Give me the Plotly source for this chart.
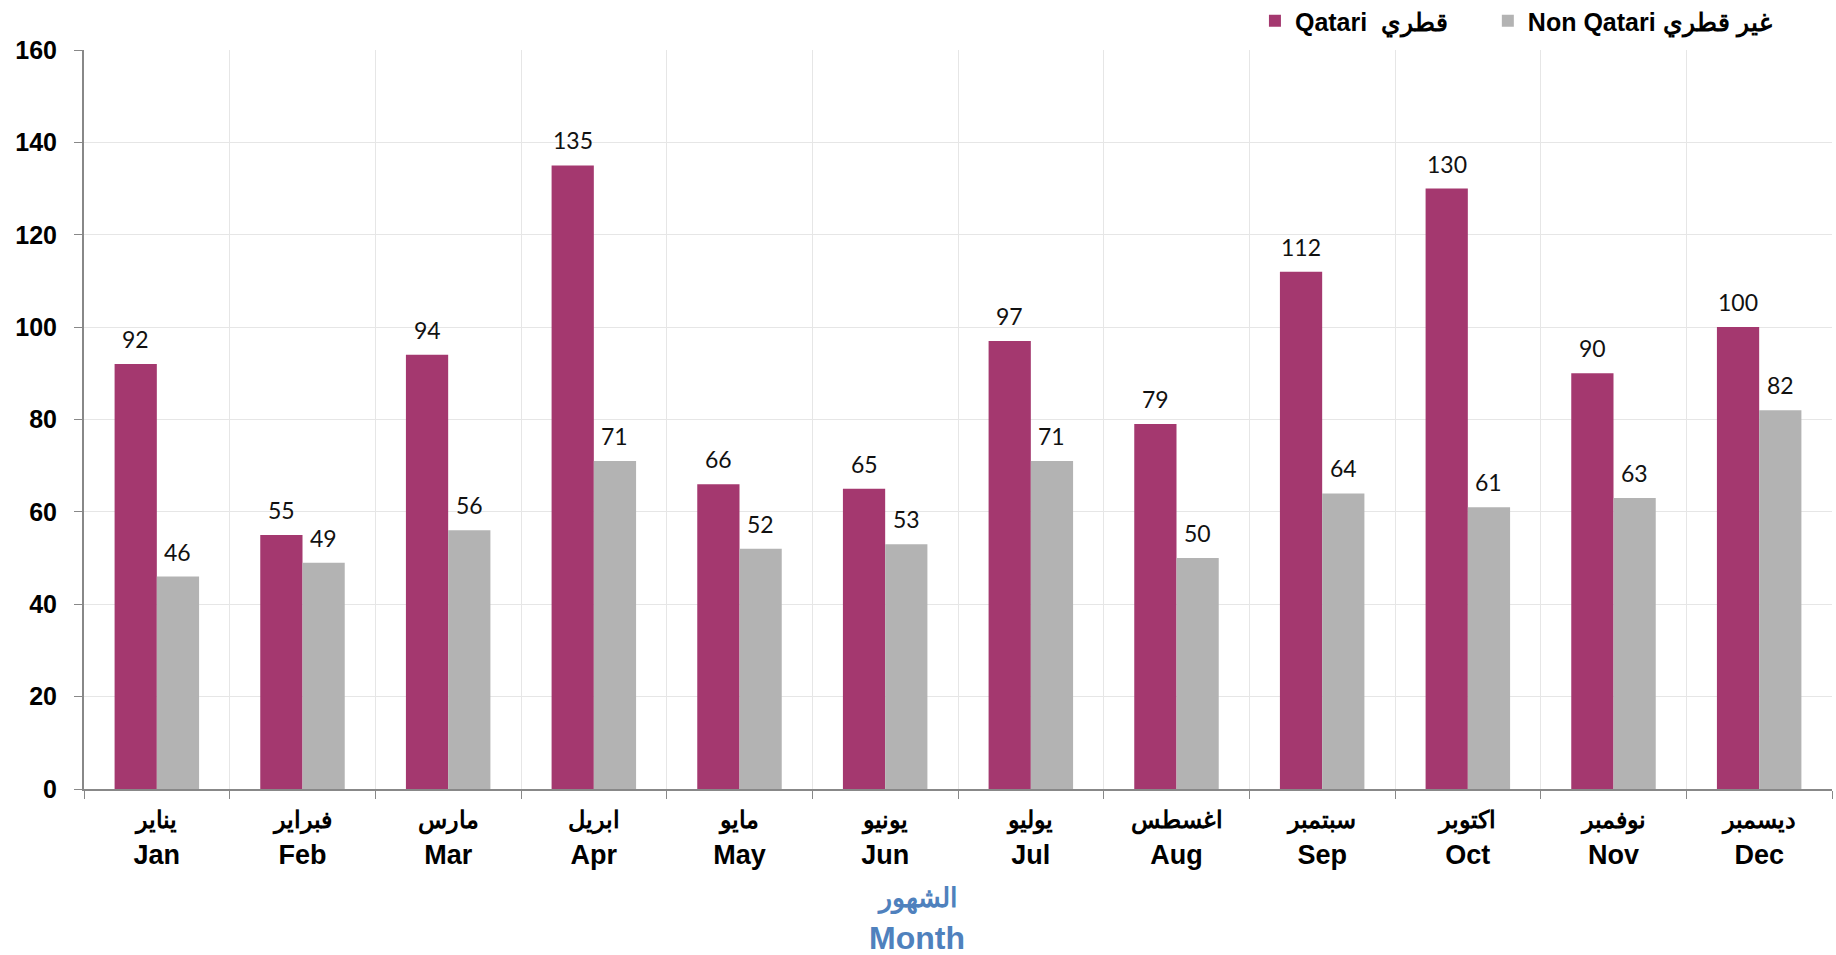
import plotly.graph_objects as go

months_en = ["Jan", "Feb", "Mar", "Apr", "May", "Jun", "Jul", "Aug", "Sep", "Oct", "Nov", "Dec"]
months_ar = ["يناير", "فبراير", "مارس", "ابريل", "مايو", "يونيو", "يوليو", "اغسطس", "سبتمبر", "اكتوبر", "نوفمبر", "ديسمبر"]
qatari = [92, 55, 94, 135, 66, 65, 97, 79, 112, 130, 90, 100]
non_qatari = [46, 49, 56, 71, 52, 53, 71, 50, 64, 61, 63, 82]
y_ticks = [0, 20, 40, 60, 80, 100, 120, 140, 160]

W, H = 1836, 955
ML, MR, MT, MB = 84, 4, 50, 166
BARGAP = 0.42
plot_w = W - ML - MR
plot_h = H - MT - MB
bar_px = plot_w / len(months_en) * (1 - BARGAP) / 2

cats = [f"<span style='font-size:24px'>{a}</span><br>{e}" for a, e in zip(months_ar, months_en)]
label_font = dict(family="Lato, Open Sans, sans-serif", size=23, color="#111")

fig = go.Figure()
fig.add_trace(go.Bar(
    x=cats, y=qatari, name="<b>Qatari</b>  <b>قطري</b>" + "&nbsp;" * 5,
    marker=dict(color="#A4386F", line=dict(width=0)),
))
fig.add_trace(go.Bar(
    x=cats, y=non_qatari, name="<b>Non Qatari</b> <b>غير قطري</b>",
    marker=dict(color="#B3B3B3", line=dict(width=0)),
))

for series, sign in ((qatari, -1), (non_qatari, 1)):
    for c, v in zip(cats, series):
        fig.add_annotation(x=c, y=v, xref="x", yref="y", text=str(v), showarrow=False,
                           xshift=sign * bar_px / 2, yanchor="bottom", yshift=9, font=label_font)

fig.update_layout(
    width=W, height=H,
    paper_bgcolor="white", plot_bgcolor="white",
    margin=dict(l=ML, r=MR, t=MT, b=MB, autoexpand=False),
    barmode="group", bargap=BARGAP, bargroupgap=0,
    font=dict(family="Liberation Sans, Arial, sans-serif", color="#000"),
    showlegend=True,
    legend=dict(orientation="h", x=0.9685, xanchor="right", y=1 + 29 / plot_h, yanchor="middle",
                font=dict(size=25, family="Liberation Sans, Arial, sans-serif", color="#000"),
                itemwidth=30, traceorder="normal", bgcolor="rgba(0,0,0,0)"),
    xaxis=dict(
        type="category", tickson="boundaries", showgrid=True, gridcolor="#E6E6E6",
        ticks="outside", ticklen=8, tickcolor="#888", showline=True, linecolor="#888", linewidth=2,
        ticklabelstandoff=5,
        tickfont=dict(size=27, family="Liberation Sans, Arial, sans-serif", color="#000", weight="bold"),
    ),
    yaxis=dict(
        range=[0, 160], tickvals=y_ticks, showgrid=True, gridcolor="#E6E6E6",
        ticks="outside", ticklen=8, tickcolor="#888", showline=True, linecolor="#888", linewidth=2,
        zeroline=False, ticklabelstandoff=12,
        tickfont=dict(size=25, family="Liberation Sans, Arial, sans-serif", color="#000", weight="bold"),
    ),
)

fig.add_annotation(text="<b>الشهور</b>", x=(917 - ML) / plot_w, xref="paper", y=(H - MB - 899) / plot_h, yref="paper",
                   xanchor="center", yanchor="middle",
                   showarrow=False, font=dict(size=27, color="#4F81BD"))
fig.add_annotation(text="<b>Month</b>", x=(917 - ML) / plot_w, xref="paper", y=(H - MB - 938) / plot_h, yref="paper",
                   xanchor="center", yanchor="middle",
                   showarrow=False, font=dict(size=32, color="#4F81BD", family="Liberation Sans, Arial, sans-serif"))
fig.write_html("out.html", config={"displayModeBar": False},
               post_script="document.body.style.margin='0';document.body.style.overflow='hidden';")
